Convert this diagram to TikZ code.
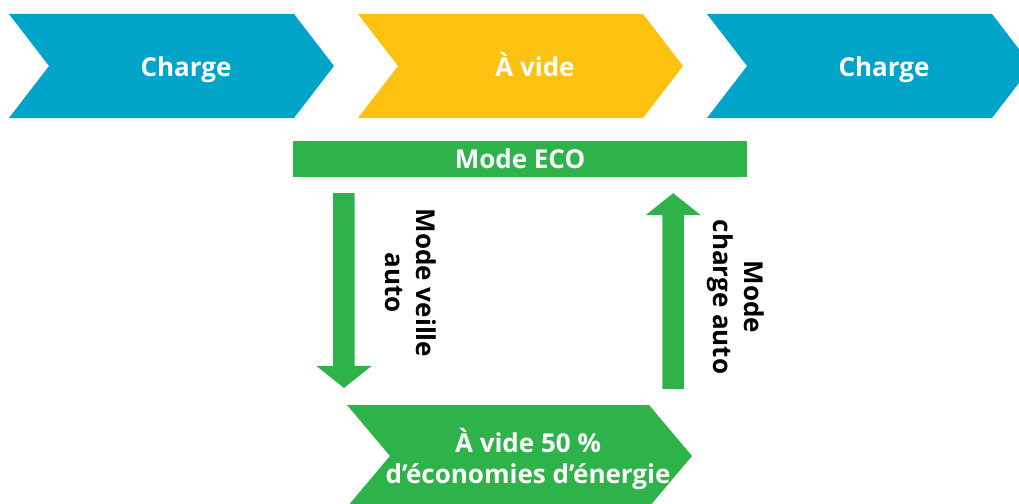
\documentclass[tikz,border=0pt]{standalone}
\usepackage{fontspec}
\setmainfont{Open Sans}
\usetikzlibrary{arrows.meta}

\definecolor{chargeblue}{HTML}{00A4C8}
\definecolor{videyellow}{HTML}{FDC20F}
\definecolor{ecogreen}{HTML}{2EB34B}

\begin{document}
\begin{tikzpicture}[x=1pt, y=-1pt]
    \tikzstyle{every node} = [font=\fontsize{26}{31}\selectfont\bfseries, inner sep=0pt]
    \tikzstyle{phase} = [text=white, anchor=base]
    \tikzstyle{mode} = [align=center, rotate=-90, text=black]
    \tikzstyle{switch} = [ecogreen, line width=21.5pt, -{Triangle[length=22pt, width=54pt]}]
    \useasboundingbox (0, 0) rectangle (1019, 503);

    % cycle: load, no load, load
    \foreach \x/\c/\t/\n in {9/chargeblue/Charge/charge1, 358/videyellow/À vide/vide, 707/chargeblue/Charge/charge2} {
      \fill [\c] (\x, 14) -- (\x+285, 14) -- (\x+325, 66) -- (\x+285, 118) -- (\x, 118) -- (\x+40, 66) -- cycle;
      \node [phase] (\n) at (\x+177, 76) {\t};
    }

    \node [fill=ecogreen, text=white, minimum width=454pt, minimum height=36pt] (eco) at (520, 159) {Mode ECO};

    \fill [ecogreen] (347, 405) coordinate (low nw) -- (649, 405) coordinate (low ne) -- (692, 456)
      -- (649, 507) -- (347, 507) -- (390, 456) -- cycle;
    \node [text=white, align=center] (saving) at (528, 459) {À vide 50 \%\\d’économies d’énergie};

    \draw [switch] ([shift={(51pt,-16pt)}]eco.south west) -- ([shift={(-3pt,17pt)}]low nw);
    \draw [switch] ([shift={(24pt,16pt)}]low ne) -- ([shift={(-74pt,-16pt)}]eco.south east);

    \node [mode] (veille) at (411, 283) {Mode veille\\auto};
    \node [mode] (recharge) at (736, 297) {Mode\\charge auto};
  \end{tikzpicture}
\end{document}
